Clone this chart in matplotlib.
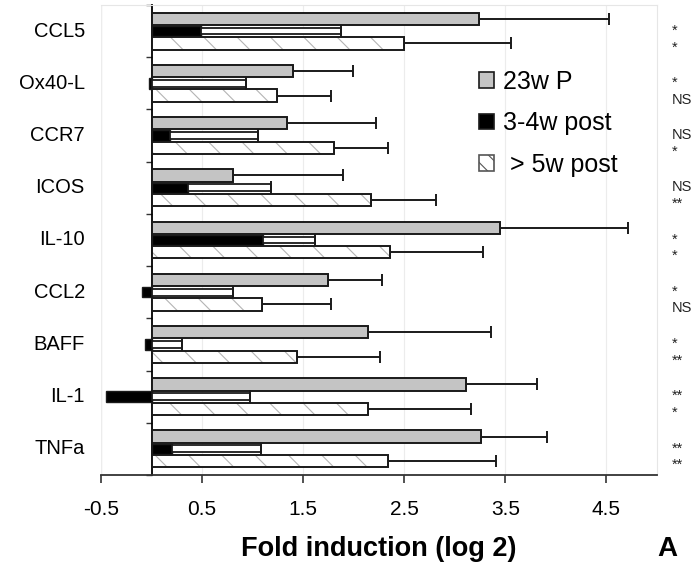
import matplotlib
matplotlib.use("Agg")
import matplotlib.pyplot as plt
import matplotlib.transforms as mtransforms
from matplotlib.patches import Patch
import numpy as np

plt.rcParams['font.family'] = ['Liberation Sans', 'DejaVu Sans']

genes = ["CCL5", "Ox40-L", "CCR7", "ICOS", "IL-10", "CCL2", "BAFF", "IL-1", "TNFa"]

# 23w P
p23 = [3.24, 1.40, 1.34, 0.81, 3.45, 1.75, 2.14, 3.11, 3.26]
p23_err = [1.29, 0.59, 0.88, 1.08, 1.26, 0.53, 1.22, 0.70, 0.65]
# 3-4w post
post34 = [0.49, -0.03, 0.18, 0.36, 1.10, -0.09, -0.06, -0.45, 0.20]
post34_err = [1.38, 0.96, 0.87, 0.82, 0.52, 0.90, 0.36, 1.42, 0.88]
# > 5w post
post5 = [2.50, 1.24, 1.80, 2.17, 2.36, 1.09, 1.44, 2.14, 2.34]
post5_err = [1.06, 0.54, 0.54, 0.64, 0.92, 0.69, 0.82, 1.02, 1.07]

sig_top = ["*", "*", "NS", "NS", "*", "*", "*", "**", "**"]
sig_bot = ["*", "NS", "*", "**", "*", "NS", "**", "*", "**"]

labels = ["23w P", "3-4w post", " > 5w post"]
xticks = [-0.5, 0.5, 1.5, 2.5, 3.5, 4.5]

fig = plt.figure(figsize=(6.97, 5.67), dpi=100)
ax = fig.add_axes([0.1449, 0.1623, 0.7977, 0.8289])

y = np.arange(len(genes))
h = 0.235
edge = "#1a1a1a"
gray = "#c4c4c4"

# gray bars
ax.barh(y - h, p23, height=h, color=gray, edgecolor=edge, linewidth=1.4, zorder=3)
ax.errorbar(p23, y - h, xerr=[np.zeros(len(p23)), p23_err], fmt="none",
            ecolor=edge, elinewidth=1.4, capsize=4.5, capthick=1.4, zorder=2)

# black bars
ax.barh(y, post34, height=h * 0.85, color="black", edgecolor=edge, linewidth=1.0, zorder=3)
mid = np.array(post34)
box_left = np.maximum(mid, 0)
box_right = mid + np.array(post34_err)
ax.barh(y, box_right - box_left, left=box_left, height=0.13, color="white",
        edgecolor=edge, linewidth=1.3, zorder=4)
ax.vlines(box_right, y - 0.12, y + 0.12, color=edge, linewidth=1.4, zorder=4)

# hatched bars
plt.rcParams['hatch.linewidth'] = 0.8
ax.barh(y + h, post5, height=h, color="white", edgecolor="#b4b4b4", hatch="\\",
        linewidth=0, zorder=3)
ax.barh(y + h, post5, height=h, color="none", edgecolor=edge, linewidth=1.4, zorder=3)
ax.errorbar(post5, y + h, xerr=[np.zeros(len(post5)), post5_err], fmt="none",
            ecolor=edge, elinewidth=1.4, capsize=4.5, capthick=1.4, zorder=2)

ax.set_xlim(-0.5, 5.0)
ax.set_ylim(len(genes) - 0.5, -0.5)
ax.set_xticks(xticks)
ax.set_xticklabels([str(t) for t in xticks], fontsize=15)
ax.tick_params(axis="x", direction="out", length=6, width=1.2, pad=12, color="#333333")
ax.set_yticks(np.arange(len(genes) + 1) - 0.5)
ax.set_yticklabels([])
ax.tick_params(axis="y", direction="out", length=4, width=1.0, color="#333333")
ax.xaxis.grid(True, color="#ececec", linewidth=0.8, zorder=0)
ax.set_axisbelow(True)

ax.spines["left"].set_position(("data", 0))
ax.spines["left"].set_linewidth(1.3)
ax.spines["bottom"].set_linewidth(1.3)
ax.spines["bottom"].set_color("#333333")
for s in ["top", "right"]:
    ax.spines[s].set_color("#e6e6e6")
ax.axvline(ax.get_xlim()[0], color="#e6e6e6", linewidth=1.0, zorder=0)

trans = mtransforms.blended_transform_factory(ax.transAxes, ax.transData)
for i, g in enumerate(genes):
    ax.text(-0.029, i, g, transform=trans, ha="right", va="center", fontsize=14.5)
    ax.text(1.027, i + 0.15, sig_top[i] + "\n" + sig_bot[i], transform=trans,
            ha="left", va="center", multialignment="left", fontsize=10.5,
            linespacing=1.25, color="#222222")

ax.set_xlabel("Fold induction (log 2)", fontsize=19.5, fontweight="bold", labelpad=12)
fig.text(0.958, 0.008, "A", fontsize=20, fontweight="bold", ha="center", va="bottom")

handles = [
    Patch(facecolor=gray, edgecolor=edge, linewidth=1.2),
    Patch(facecolor="black", edgecolor=edge, linewidth=1.2),
    Patch(facecolor="white", edgecolor="#555555", linewidth=1.2, hatch="\\\\"),
]
leg = ax.legend(handles, labels, loc="upper left", bbox_to_anchor=(0.64, 0.91),
                frameon=False, fontsize=18, handlelength=0.6, handleheight=0.6,
                handletextpad=0.35, labelspacing=0.7)

fig.savefig("out.png", dpi=100)
